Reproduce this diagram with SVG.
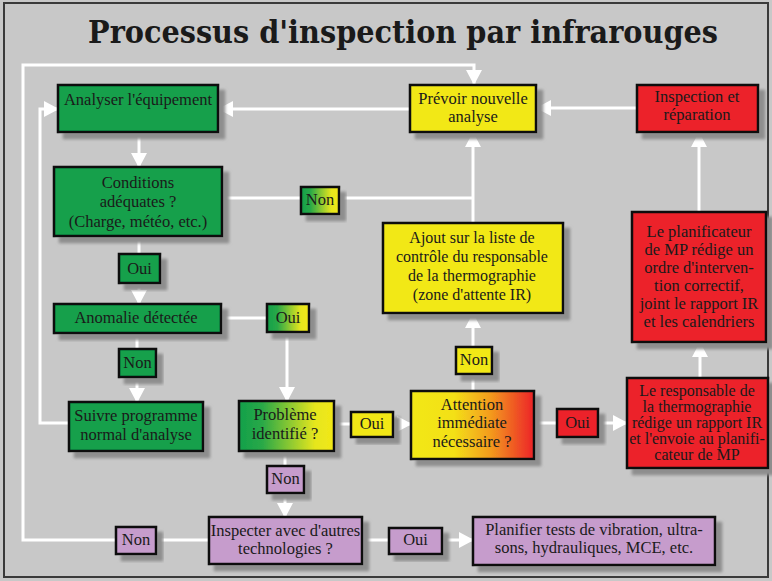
<svg xmlns="http://www.w3.org/2000/svg" width="772" height="581" viewBox="0 0 772 581">
<defs>
<style>
.bx{stroke:#111;stroke-width:2.5;filter:url(#sh)}
.g{fill:#12a04b}.y{fill:#f2e817}.r{fill:#ec2229}.p{fill:#c69ccc}
.t{font-family:"Liberation Serif","Times New Roman",serif;font-size:16.5px;fill:#1a1a1a;text-anchor:middle}
.s{font-size:16px}
.c{fill:none;stroke:#fff;stroke-width:3}
.ca{fill:none;stroke:#fff;stroke-width:3;marker-end:url(#ah)}
</style>
<filter id="sh" x="-10%" y="-10%" width="130%" height="140%">
<feDropShadow dx="6" dy="6" stdDeviation="1.5" flood-color="#8e8e8e" flood-opacity="1"/>
</filter>
<linearGradient id="gy" x1="0" y1="0" x2="1" y2="0">
<stop offset="0" stop-color="#12a04b"/><stop offset="0.25" stop-color="#2aa947"/><stop offset="0.8" stop-color="#e6e61e"/><stop offset="1" stop-color="#f2e817"/>
</linearGradient>
<linearGradient id="yr" x1="0" y1="0" x2="1" y2="0">
<stop offset="0" stop-color="#f2e817"/><stop offset="0.35" stop-color="#f3e018"/><stop offset="0.65" stop-color="#f39a1e"/><stop offset="1" stop-color="#ec2229"/>
</linearGradient>
<marker id="ah" markerUnits="userSpaceOnUse" markerWidth="16" markerHeight="16" refX="14" refY="8" orient="auto">
<path d="M0,0 L15,8 L0,16 z" fill="#fff"/>
</marker>
</defs>
<rect x="0" y="0" width="772" height="581" fill="#c8c8c8"/>
<rect x="4" y="3" width="764" height="574" fill="none" stroke="#3a3a3a" stroke-width="2"/>
<text x="403" y="43" text-anchor="middle" textLength="630" lengthAdjust="spacingAndGlyphs" style="font-family:'DejaVu Serif','Liberation Serif',serif;font-weight:bold;font-stretch:condensed;font-size:32px;fill:#1a1a1a">Processus d'inspection par infrarouges</text>

<g id="connectors">
<path class="ca" d="M209,540 H23 V65 H474 V84"/>
<path class="ca" d="M69,423 H40 V109 H58"/>
<path class="ca" d="M410,109 H219"/>
<path class="ca" d="M637,108 H537"/>
<path class="ca" d="M699,212 V133"/>
<path class="ca" d="M700,378 V343"/>
<path class="ca" d="M534,423 H627"/>
<path class="ca" d="M473,391 V314"/>
<path class="ca" d="M473,223 V133"/>
<path class="c" d="M222,198 H473"/>
<path class="ca" d="M139,132 V167"/>
<path class="ca" d="M139,236 V304"/>
<path class="ca" d="M137,333 V402"/>
<path class="ca" d="M221,318 H287 V401"/>
<path class="ca" d="M334,424 H411"/>
<path class="ca" d="M285,451 V517"/>
<path class="ca" d="M362,540 H473"/>
</g>

<g id="n-analyser"><rect class="bx g" x="58" y="85" width="160" height="47"/><text class="t" x="138" y="105">Analyser l'équipement</text></g>
<g id="n-conditions"><rect class="bx g" x="54" y="167" width="168" height="69"/><text class="t" x="138" y="188">Conditions</text><text class="t" x="138" y="207">adéquates ?</text><text class="t" x="138" y="227">(Charge, météo, etc.)</text></g>
<g id="l-oui1"><rect class="bx g" x="119" y="254" width="41" height="29"/><text class="t" x="139.5" y="274">Oui</text></g>
<g id="n-anomalie"><rect class="bx g" x="54" y="304" width="167" height="29"/><text class="t" x="136" y="323">Anomalie détectée</text></g>
<g id="l-non1"><rect class="bx g" x="119" y="349" width="37" height="28"/><text class="t" x="137.5" y="368">Non</text></g>
<g id="n-suivre"><rect class="bx g" x="69" y="402" width="134" height="49"/><text class="t" x="136" y="421">Suivre programme</text><text class="t" x="136" y="440">normal d'analyse</text></g>
<g id="l-non0"><rect class="bx" fill="url(#gy)" x="301" y="187" width="38" height="27"/><text class="t" x="320" y="205">Non</text></g>
<g id="l-oui2"><rect class="bx" fill="url(#gy)" x="267" y="304" width="42" height="28"/><text class="t" x="288" y="323">Oui</text></g>
<g id="n-probleme"><rect class="bx" fill="url(#gy)" x="239" y="401" width="95" height="50"/><text class="t" x="285" y="420">Problème</text><text class="t" x="285" y="439">identifié ?</text></g>
<g id="l-oui3"><rect class="bx y" x="351" y="412" width="42" height="25"/><text class="t" x="372" y="429">Oui</text></g>
<g id="l-non2"><rect class="bx p" x="267" y="466" width="37" height="27"/><text class="t" x="285.5" y="484">Non</text></g>
<g id="n-inspecter"><rect class="bx p" x="209" y="517" width="153" height="47"/><text class="t" x="285.5" y="536">Inspecter avec d'autres</text><text class="t" x="285.5" y="554">technologies ?</text></g>
<g id="l-non3"><rect class="bx p" x="116" y="527" width="40" height="27"/><text class="t" x="136" y="545">Non</text></g>
<g id="l-oui4"><rect class="bx p" x="389" y="528" width="53" height="26"/><text class="t" x="415.5" y="545">Oui</text></g>
<g id="n-planifier"><rect class="bx p" x="473" y="517" width="242" height="48"/><text class="t" x="594" y="535">Planifier tests de vibration, ultra-</text><text class="t" x="594" y="553">sons, hydrauliques, MCE, etc.</text></g>
<g id="n-attention"><rect class="bx" fill="url(#yr)" x="411" y="391" width="123" height="68"/><text class="t" x="472" y="410">Attention</text><text class="t" x="472" y="428">immédiate</text><text class="t" x="472" y="447">nécessaire ?</text></g>
<g id="l-non4"><rect class="bx y" x="456" y="347" width="36" height="27"/><text class="t" x="474" y="365">Non</text></g>
<g id="n-ajout"><rect class="bx y" x="383" y="223" width="180" height="90"/><text class="t s" x="472" y="243">Ajout sur la liste de</text><text class="t s" x="472" y="262">contrôle du responsable</text><text class="t s" x="472" y="281">de la thermographie</text><text class="t s" x="472" y="300">(zone d'attente IR)</text></g>
<g id="n-prevoir"><rect class="bx y" x="410" y="85" width="126" height="47"/><text class="t" x="473" y="104">Prévoir nouvelle</text><text class="t" x="473" y="122">analyse</text></g>
<g id="n-inspection"><rect class="bx r" x="637" y="85" width="121" height="47"/><text class="t" x="697" y="102">Inspection et</text><text class="t" x="697" y="120">réparation</text></g>
<g id="n-planificateur"><rect class="bx r" x="632" y="212" width="134" height="130"/><text class="t" x="699" y="237">Le planificateur</text><text class="t" x="699" y="255">de MP rédige un</text><text class="t" x="699" y="273">ordre d'interven-</text><text class="t" x="699" y="291">tion correctif,</text><text class="t" x="699" y="309">joint le rapport IR</text><text class="t" x="699" y="327">et les calendriers</text></g>
<g id="l-oui5"><rect class="bx r" x="557" y="409" width="41" height="28"/><text class="t" x="577.5" y="428">Oui</text></g>
<g id="n-responsable"><rect class="bx r" x="627" y="378" width="141" height="90"/><text class="t s" x="697" y="396">Le responsable de</text><text class="t s" x="697" y="412">la thermographie</text><text class="t s" x="697" y="428">rédige un rapport IR</text><text class="t s" x="697" y="444">et l'envoie au planifi-</text><text class="t s" x="697" y="460">cateur de MP</text></g>
</svg>
